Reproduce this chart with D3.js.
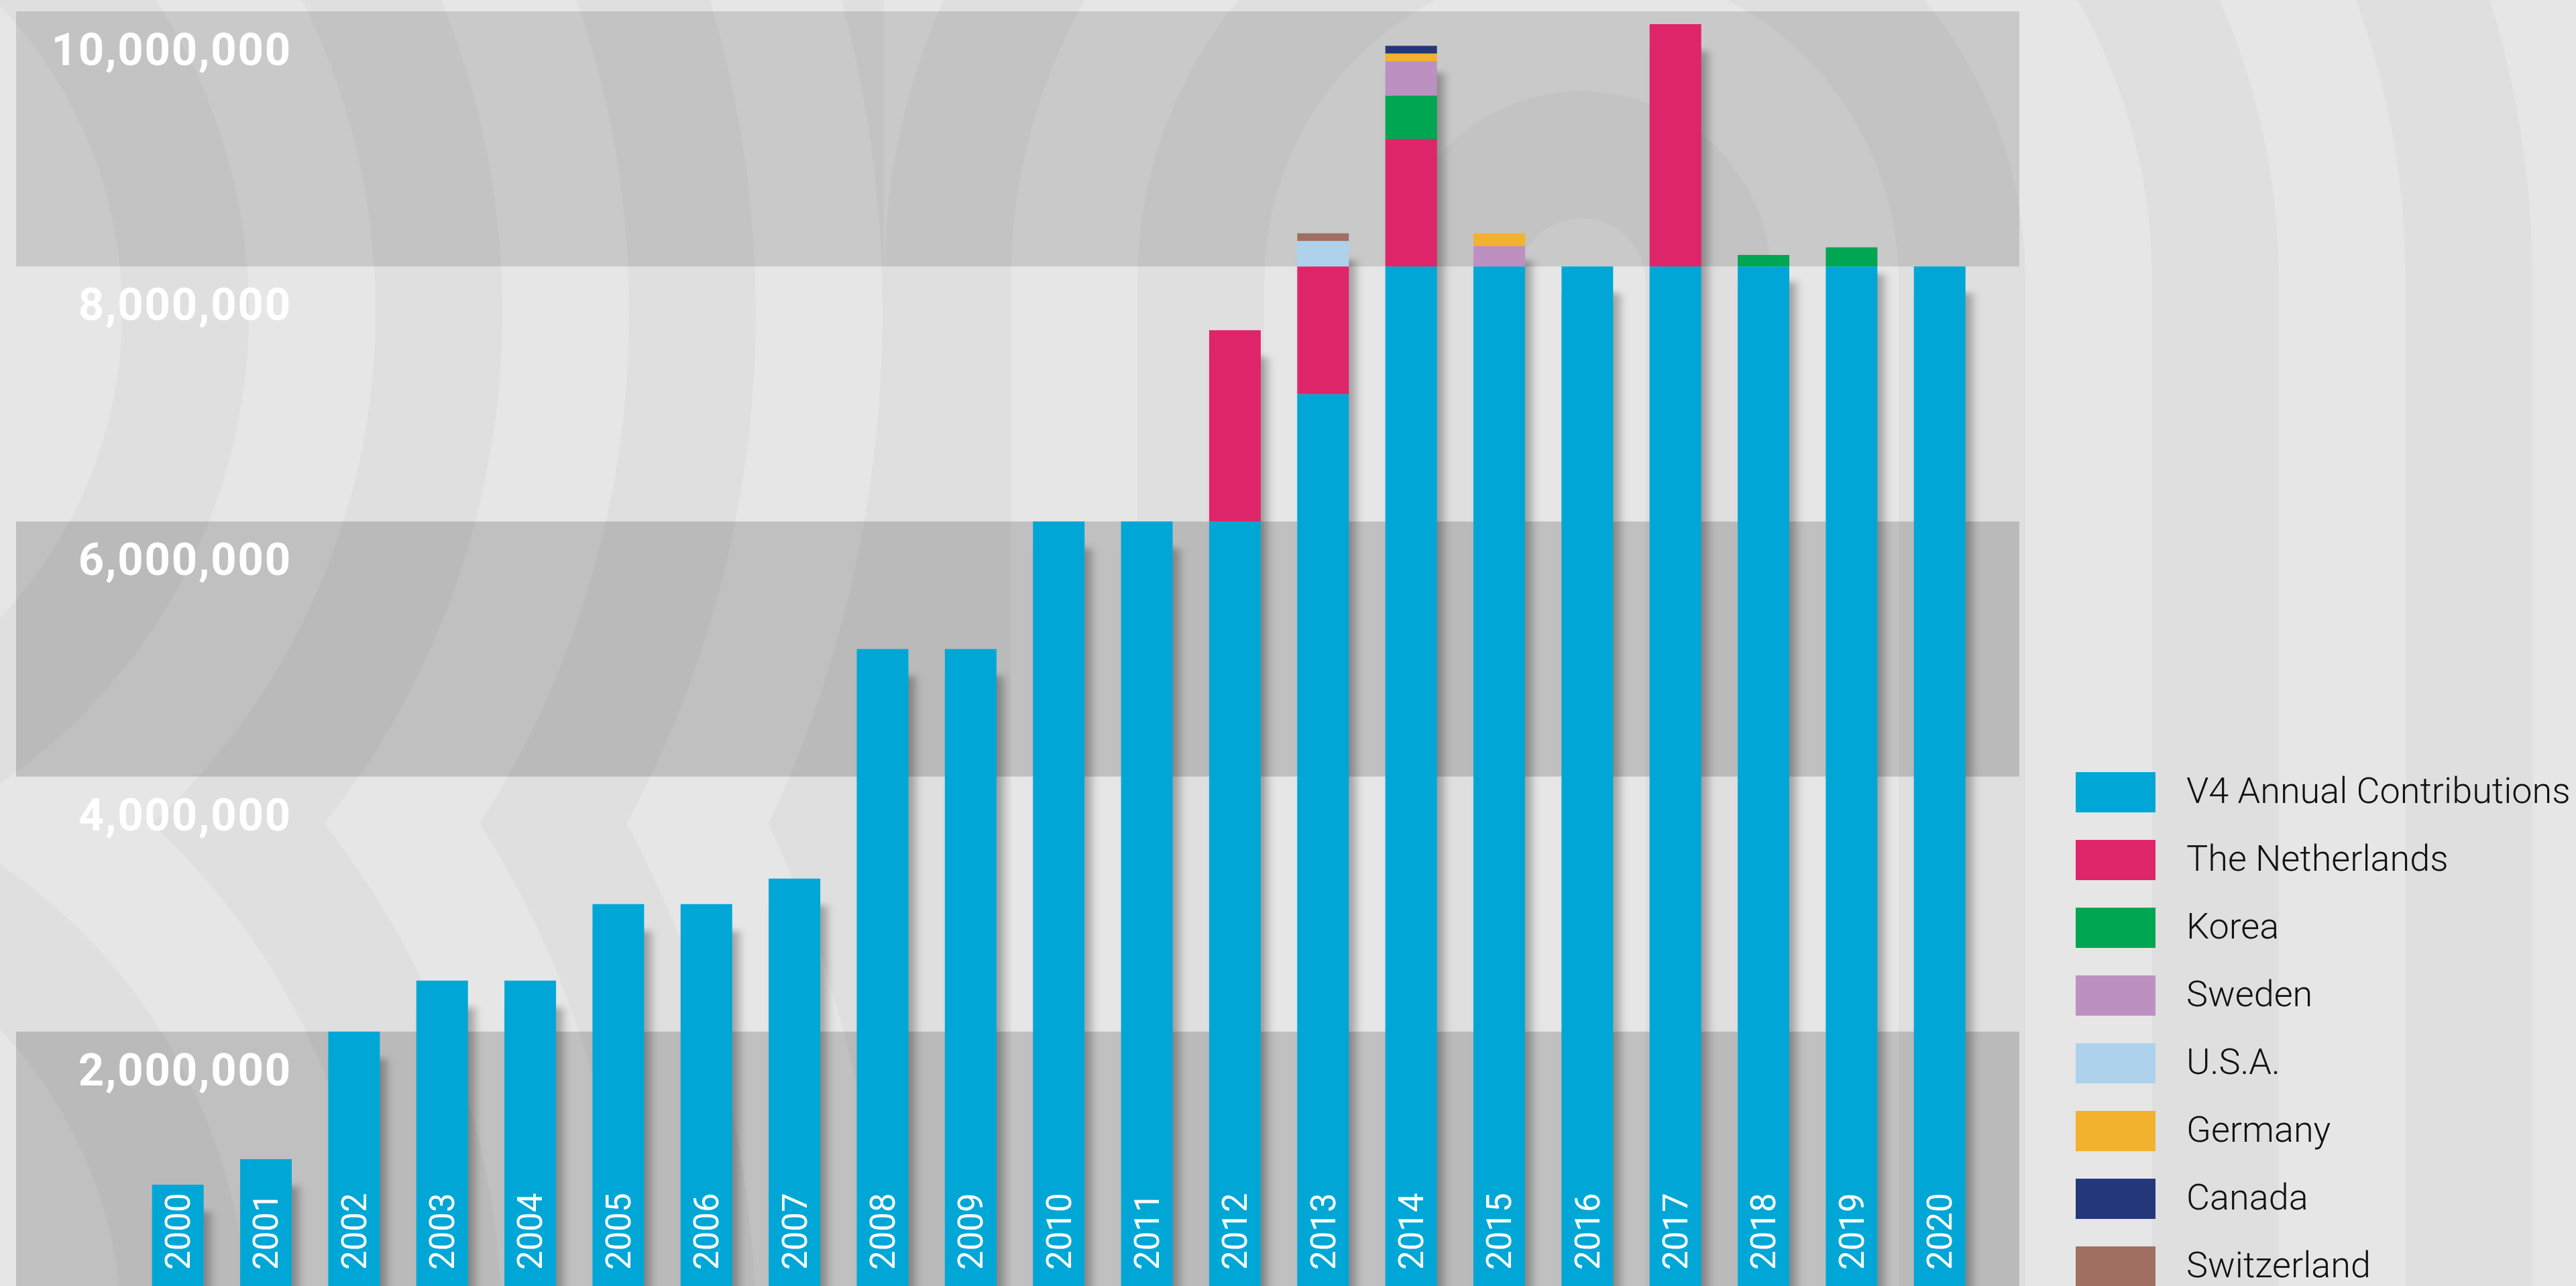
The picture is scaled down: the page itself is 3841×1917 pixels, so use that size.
<!DOCTYPE html>
<html>
<head>
<meta charset="utf-8">
<script src="https://cdn.jsdelivr.net/npm/d3@7/dist/d3.min.js"></script>
<style>
html, body { margin: 0; padding: 0; background: #e6e6e6; overflow: hidden; }
svg { display: block; }
</style>
</head>
<body>
<div id="chart"></div>
<script>
// data ________________________________________________________________________________________________________________
const years = ['2000', '2001', '2002', '2003', '2004', '2005', '2006', '2007', '2008', '2009', '2010',
    '2011', '2012', '2013', '2014', '2015', '2016', '2017', '2018', '2019', '2020'];
const v4Annual    = [800000, 1000000, 2000000, 2400000, 2400000, 3000000, 3000000, 3200000, 5000000, 5000000, 6000000,
    6000000, 6000000, 7000000, 8000000, 8000000, 8000000, 8000000, 8000000, 8000000, 8000000];
const netherlands = [0, 0, 0, 0, 0, 0, 0, 0, 0, 0, 0, 0, 1500000, 1000000, 1000000, 0, 0, 1900000, 0, 0, 0];
const korea       = [0, 0, 0, 0, 0, 0, 0, 0, 0, 0, 0, 0, 0, 0, 340000, 0, 0, 0, 90000, 150000, 0];
const sweden      = [0, 0, 0, 0, 0, 0, 0, 0, 0, 0, 0, 0, 0, 0, 270000, 160000, 0, 0, 0, 0, 0];
const usa         = [0, 0, 0, 0, 0, 0, 0, 0, 0, 0, 0, 0, 0, 200000, 0, 0, 0, 0, 0, 0, 0];
const germany     = [0, 0, 0, 0, 0, 0, 0, 0, 0, 0, 0, 0, 0, 0, 60000, 100000, 0, 0, 0, 0, 0];
const canada      = [0, 0, 0, 0, 0, 0, 0, 0, 0, 0, 0, 0, 0, 0, 60000, 0, 0, 0, 0, 0, 0];
const switzerland = [0, 0, 0, 0, 0, 0, 0, 0, 0, 0, 0, 0, 0, 60000, 0, 0, 0, 0, 0, 0, 0];

const seriesNames  = ['V4 Annual Contributions', 'The Netherlands', 'Korea', 'Sweden', 'U.S.A.', 'Germany', 'Canada', 'Switzerland'];
const seriesColors = ['#00a7d6', '#df2569', '#00a651', '#bd90c2', '#aed2ec', '#f2b22e', '#25377b', '#a06f62'];
const yTicks = [2000000, 4000000, 6000000, 8000000, 10000000];

const seriesValues = [v4Annual, netherlands, korea, sweden, usa, germany, canada, switzerland];
const rows = years.map((yr, i) => {
    const row = {year: yr};
    seriesNames.forEach((name, k) => row[name] = seriesValues[k][i]);
    return row;
});

const width = 3841;
const height = 1917;

const svg = d3.select('#chart').append('svg').attr('width', width).attr('height', height);

// background pattern (concentric stripes) ______________________________________________________________________________
const defs = svg.append('defs');
defs.append('clipPath').attr('id', 'clipLU').append('rect').attr('x', 0).attr('y', 0).attr('width', 1318).attr('height', 1228);
defs.append('clipPath').attr('id', 'clipLL').append('rect').attr('x', 0).attr('y', 1228).attr('width', 1318).attr('height', 700);
defs.append('clipPath').attr('id', 'clipR').append('rect').attr('x', 1318).attr('y', 0).attr('width', 2600).attr('height', 1917);
const blur = defs.append('filter').attr('id', 'shadow')
    .attr('x', '-60%').attr('y', '-10%').attr('width', '220%').attr('height', '120%');
blur.append('feGaussianBlur').attr('stdDeviation', '7 5');

const bg = svg.append('g').attr('fill', 'none').attr('stroke', '#dfdfdf').attr('stroke-width', 189);
const leftRings = [756.5, 1134.5, 1512.5, 1890.5, 2268.5];
bg.append('g').attr('clip-path', 'url(#clipLU)')
    .selectAll('circle').data(leftRings).enter().append('circle')
    .attr('cx', -480).attr('cy', 465).attr('r', d => d);
bg.append('g').attr('clip-path', 'url(#clipLL)')
    .selectAll('circle').data(leftRings).enter().append('circle')
    .attr('cx', -480).attr('cy', 1991).attr('r', d => d);
const archRings = [189.5, 567.5, 945.5, 1323.5, 1701.5];
const acx = 2358, acy = 420;
bg.append('g').attr('clip-path', 'url(#clipR)')
    .selectAll('path').data(archRings).enter().append('path')
    .attr('d', r => `M${acx - r},2000V${acy}A${r},${r} 0 0 1 ${acx + r},${acy}V2000`);

// scales _____________________________________________________________________________________________________________
const x = d3.scaleBand()
    .domain(years)
    .range([199.5, 2957.9])
    .paddingInner(0.414)
    .paddingOuter(0.207);

const y = d3.scaleLinear()
    .domain([0, 10000000])
    .range([1918, 17]);

// dark bands every other 2M step
const bands = [[0, 2000000, 0.165], [4000000, 6000000, 0.165], [8000000, 10000000, 0.125]];
svg.append('g')
    .selectAll('rect').data(bands).enter().append('rect')
    .attr('x', 24)
    .attr('width', 3011 - 24)
    .attr('y', d => y(d[1]))
    .attr('height', d => y(d[0]) - y(d[1]))
    .attr('fill', '#000')
    .attr('fill-opacity', d => d[2]);

// y axis labels
svg.append('g')
    .selectAll('text').data(yTicks).enter().append('text')
    .attr('x', 435)
    .attr('y', d => y(d) + 80)
    .attr('text-anchor', 'end')
    .attr('fill', '#fff')
    .style('font-family', 'Roboto, sans-serif')
    .style('font-weight', 700)
    .style('font-size', '67px')
    .style('letter-spacing', '1.8px')
    .text(d => d3.format(',')(d));

// bars _______________________________________________________________________________________________________________
const stacked = d3.stack().keys(seriesNames)(rows);
const totals = rows.map(r => d3.sum(seriesNames, k => r[k]));

svg.append('g')
    .attr('filter', 'url(#shadow)')
    .selectAll('rect').data(years).enter().append('rect')
    .attr('x', d => x(d) + 10)
    .attr('y', (d, i) => y(totals[i]) + 40)
    .attr('width', x.bandwidth())
    .attr('height', (d, i) => y(0) - y(totals[i]))
    .attr('fill', '#000')
    .attr('fill-opacity', 0.3);

svg.append('g')
    .selectAll('g').data(stacked).enter().append('g')
    .attr('fill', (d, i) => seriesColors[i])
    .selectAll('rect').data(d => d.filter(s => s[1] - s[0] > 0)).enter().append('rect')
    .attr('x', d => x(d.data.year))
    .attr('y', d => y(d[1]))
    .attr('height', d => y(d[0]) - y(d[1]))
    .attr('width', x.bandwidth());

// year labels inside the bars
svg.append('g')
    .selectAll('text').data(years).enter().append('text')
    .attr('transform', d => `translate(${x(d) + x.bandwidth() / 2},1893) rotate(-90)`)
    .attr('dy', '0.35em')
    .attr('fill', '#fff')
    .style('font-family', 'Roboto, sans-serif')
    .style('font-size', '51px')
    .text(d => d);

// legend _____________________________________________________________________________________________________________
const legend = svg.append('g').attr('transform', 'translate(3095,1151)');
const item = legend.selectAll('g').data(seriesNames).enter().append('g')
    .attr('transform', (d, i) => `translate(0,${i * 101})`);
item.append('rect')
    .attr('width', 119)
    .attr('height', 60)
    .attr('fill', (d, i) => seriesColors[i]);
item.append('text')
    .attr('x', 165)
    .attr('y', 46)
    .attr('fill', '#111')
    .style('font-family', 'Roboto, sans-serif')
    .style('font-weight', 300)
    .style('font-size', '54px')
    .text(d => d);
</script>
</body>
</html>
